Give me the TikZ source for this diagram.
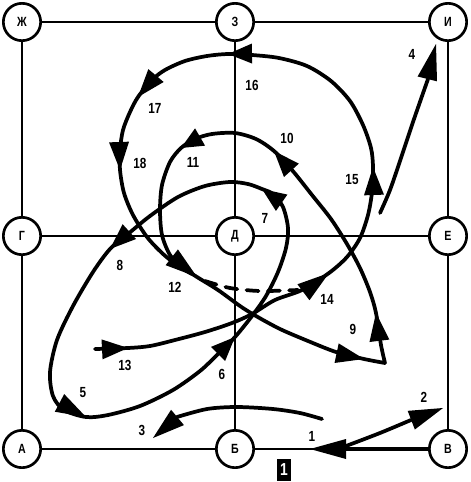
\documentclass[tikz,border=0pt]{standalone}
\usepackage{fontspec}
\setmainfont{Liberation Sans}
\newfontfamily\lblfont{Liberation Sans}[FakeStretch=0.8]

\begin{document}
\begin{tikzpicture}[x=0.75pt,y=-0.75pt,line cap=round,line join=round,
  vertex/.style={circle,draw,line width=2pt,minimum size=28pt,inner sep=0pt,fill=white,
    font=\lblfont\bfseries\fontsize{10}{12}\selectfont},
  grid/.style={line width=1.6pt},
  route/.style={line width=2.8pt},
  num/.style={font=\lblfont\bfseries\fontsize{11}{12}\selectfont,inner sep=0pt}]
  \useasboundingbox (0,0) rectangle (471,482);
  % grid points
  \node[vertex] (Zh) at (22,22) {Ж};
  \node[vertex] (Z) at (235,22) {З};
  \node[vertex] (I) at (448,22) {И};
  \node[vertex] (G) at (22,236) {Г};
  \node[vertex] (D) at (235,236) {Д};
  \node[vertex] (E) at (448,236) {Е};
  \node[vertex] (A) at (22,449) {А};
  \node[vertex] (B) at (235,449) {Б};
  \node[vertex] (V) at (448,449) {В};
  \draw[grid] (Zh) -- (Z) (Z) -- (I) (G) -- (D) (D) -- (E) (A) -- (B) (B) -- (V);
  \draw[grid] (Zh) -- (G) (G) -- (A) (Z) -- (D) (D) -- (B) (I) -- (E) (E) -- (V);
  % moves 1-4
  \coordinate (b1) at (346,449);
  \draw[route] (V) -- (b1);
  \draw[route] plot[smooth] coordinates {(346,446) (380,433) (411,420)};
  \draw[route] plot[smooth] coordinates {(322,419) (300,413) (273,409) (237,407) (207,409) (177,417)};
  \draw[route] plot[smooth] coordinates {(380,213) (390,190) (401,158) (413,122) (428,79)};
  % loop 5-8
  \draw[route] plot[smooth cycle] coordinates {(235,337) (252,316) (266,296) (278,272) (286,248)
    (288,228) (283,207) (273,194) (262,189) (248,184) (230,182) (205,186) (178,197) (150,216)
    (128,234) (110,249) (93,272) (73,306) (57,340) (50,372) (53,396) (64,410) (86,417)
    (108,415) (140,406) (173,390) (200,371) (218,354)};
  % loop 9-12
  \draw[route] plot[smooth] coordinates {(385,363) (381,345) (376,313) (370,292) (360,268)
    (347,244) (331,219) (312,195) (292,170) (274,151) (256,139) (235,133) (212,134) (195,139)
    (181,148) (170,162) (162,185) (160,210) (162,235) (170,255) (182,267) (197,277) (218,290)
    (240,306) (256,316) (280,329) (308,341) (336,352) (364,359) (385,363)};
  % moves 13-18
  \draw[route] plot[smooth] coordinates {(95,349) (128,348) (150,346) (175,340) (205,332)
    (232,323) (252,314) (275,300) (302,290) (329,273) (347,257) (360,238) (368,215) (372,192)
    (373,167) (371,148) (363,125) (350,101) (331,81) (307,66) (279,58) (252,55) (228,54)
    (207,56) (185,61) (165,70) (152,80) (138,97) (130,112) (123,130) (120,150) (120,170)
    (124,193) (133,215) (147,237) (162,253) (178,266) (192,274)};
  \draw[route,dash pattern=on 9pt off 7pt] plot[smooth] coordinates {(205,281) (230,288) (260,291) (298,290)};
  % arrow heads
  \foreach \p/\a/\l in {{310,449}/180/36, {443,408}/21/34, {153,438}/220/32, {436,44}/76/36,
      {86,417}/-28/30, {235,337}/45/24, {262,189}/145/24, {110,249}/222/26,
      {376,313}/97/28, {274,151}/132/26, {181,148}/210/22, {197,277}/-38/32, {364,359}/-12/28,
      {128,348}/3/26, {329,273}/37/32, {373,167}/92/28, {228,54}/181/24, {138,97}/230/28,
      {120,170}/272/28}
    \fill[shift={(\p)},rotate=\a] (0,0) -- (-\l,10) -- (-\l,-10) -- cycle;
  % move numbers
  \node[num] (n1) at (312,436) {1};
  \node[num] (n2) at (424,397) {2};
  \node[num] (n3) at (142,430) {3};
  \node[num] (n4) at (412,54) {4};
  \node[num] (n5) at (83,393) {5};
  \node[num] (n6) at (222,374) {6};
  \node[num] (n7) at (265,218) {7};
  \node[num] (n8) at (120,265) {8};
  \node[num] (n9) at (353,329) {9};
  \node[num] (n10) at (287,138) {10};
  \node[num] (n11) at (193,162) {11};
  \node[num] (n12) at (175,287) {12};
  \node[num] (n13) at (125,365) {13};
  \node[num] (n14) at (327,299) {14};
  \node[num] (n15) at (352,180) {15};
  \node[num] (n16) at (252,85) {16};
  \node[num] (n17) at (155,108) {17};
  \node[num] (n18) at (140,163) {18};
  \node[fill=black,text=white,font=\lblfont\bfseries\fontsize{13}{14}\selectfont,
    minimum width=11pt,minimum height=17pt,inner sep=0pt] (tag) at (284,470) {1};
\end{tikzpicture}
\end{document}
